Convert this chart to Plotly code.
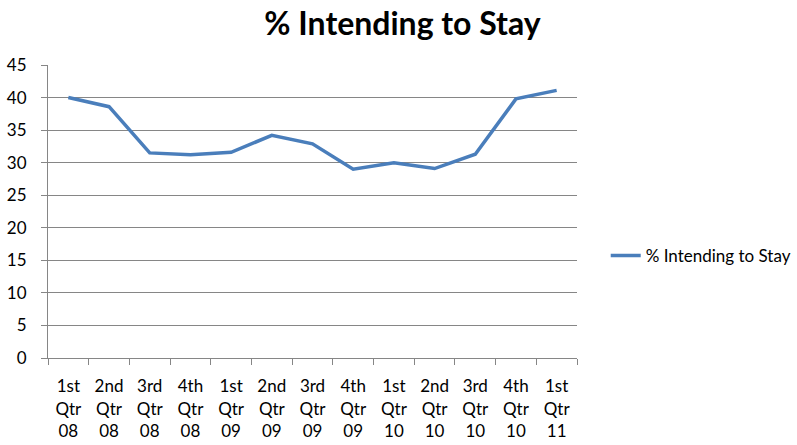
import plotly.graph_objects as go

# Quarterly survey results
quarters = ["1st<br>Qtr<br>08", "2nd<br>Qtr<br>08", "3rd<br>Qtr<br>08", "4th<br>Qtr<br>08",
            "1st<br>Qtr<br>09", "2nd<br>Qtr<br>09", "3rd<br>Qtr<br>09", "4th<br>Qtr<br>09",
            "1st<br>Qtr<br>10", "2nd<br>Qtr<br>10", "3rd<br>Qtr<br>10", "4th<br>Qtr<br>10",
            "1st<br>Qtr<br>11"]
intending_to_stay = [40.0, 38.6, 31.5, 31.2, 31.6, 34.2, 32.9, 29.0, 30.0, 29.1, 31.3, 39.8, 41.1]
y_ticks = [0, 5, 10, 15, 20, 25, 30, 35, 40, 45]

FONT = "Lato"
LINE_COLOR = "#4A7EBB"
GRID_COLOR = "#868686"

fig = go.Figure()
fig.add_trace(go.Scatter(
    x=quarters,
    y=intending_to_stay,
    mode="lines",
    name="% Intending to Stay",
    line=dict(color=LINE_COLOR, width=3.5),
))

fig.update_layout(
    width=797,
    height=445,
    margin=dict(l=48, r=220, t=65, b=87, autoexpand=False),
    paper_bgcolor="white",
    plot_bgcolor="white",
    font=dict(family=FONT, size=17, color="#000000"),
    title=dict(
        text="<b>% Intending to Stay</b>",
        xref="container", x=0.505, xanchor="center",
        yref="container", y=1 - 24 / 445, yanchor="middle",
        font=dict(family=FONT, size=32, color="#000000"),
    ),
    showlegend=True,
    legend=dict(
        xref="container", yref="container",
        x=0.76, y=1 - 256 / 445, xanchor="left", yanchor="middle",
        font=dict(family=FONT, size=17, color="#000000"),
        bgcolor="rgba(0,0,0,0)",
    ),
)

fig.update_xaxes(
    type="category",
    range=[-0.5, len(quarters) - 0.5],
    automargin=False,
    showgrid=False,
    showline=True, linecolor=GRID_COLOR, linewidth=1,
    ticks="outside", ticklen=6, tickcolor=GRID_COLOR,
    tickson="boundaries",
    tickfont=dict(family=FONT, size=17, color="#000000"),
    tickangle=0,
    ticklabelstandoff=13,
)

fig.update_yaxes(
    range=[0, 45],
    automargin=False,
    tickvals=y_ticks,
    showgrid=True, gridcolor=GRID_COLOR, gridwidth=1,
    showline=True, linecolor=GRID_COLOR, linewidth=1,
    ticks="outside", ticklen=6, tickcolor=GRID_COLOR,
    tickfont=dict(family=FONT, size=17, color="#000000"),
    ticklabelstandoff=11,
    zeroline=False,
)

fig.write_html("out.html")
